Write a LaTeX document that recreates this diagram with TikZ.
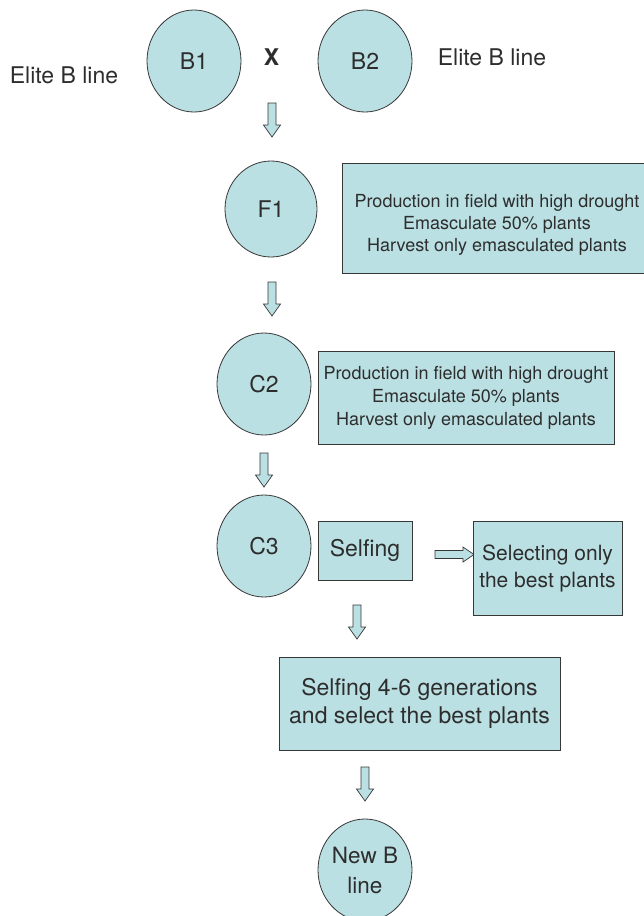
\documentclass[tikz,border=0pt]{standalone}
\usepackage{fontspec}
\setmainfont{TeX Gyre Heros}
\usetikzlibrary{shapes.geometric}
\definecolor{boxfill}{RGB}{187,224,227}
\definecolor{edge}{RGB}{55,55,55}
\definecolor{ink}{RGB}{45,45,45}
\newcommand{\myfs}[2]{\fontsize{#1}{#2}\selectfont}
\begin{document}
\begin{tikzpicture}[x=1pt,y=-1pt,
  ell/.style={ellipse, draw=edge, line width=0.8pt, fill=boxfill, inner sep=0pt,
    text=ink, align=center, font=\myfs{23}{28}},
  box/.style={rectangle, draw=edge, line width=0.9pt, fill=boxfill, inner sep=0pt,
    text=ink, align=center},
  txt/.style={text=ink, align=center, inner sep=0pt},
  blk/.style={draw=edge, line width=0.7pt, fill=boxfill, line join=miter},
  downarrow/.pic={\path[blk] (-4,0) -- (4,0) -- (4,22) -- (8.5,22) -- (0,34)
    -- (-8.5,22) -- (-4,22) -- cycle;},
  rightarrow/.pic={\path[blk] (0,-4) -- (28,-4) -- (28,-7.5) -- (39,0)
    -- (28,7.5) -- (28,4) -- (0,4) -- cycle;}]
\path[use as bounding box, fill=white] (0,0) rectangle (644,916);

% top row
\node[txt, font=\myfs{23}{28}] (eliteL) at (64,75) {Elite B line};
\node[ell, minimum width=94pt, minimum height=102pt] (b1) at (194,61) {B1};
\node[txt, font=\myfs{23}{28}\bfseries] (cross) at (271.5,57) {X};
\node[ell, minimum width=94pt, minimum height=102pt] (b2) at (365,61) {B2};
\node[txt, font=\myfs{23}{28}] (eliteR) at (492,57) {Elite B line};
\pic at (272,103) {downarrow};

% F1
\node[ell, minimum width=92pt, minimum height=96pt] (f1) at (271,209) {F1};
\node[box, minimum width=310pt, minimum height=110pt] (f1box) at (497,218) {};
\node[txt, font=\myfs{18}{22}] (f1txt) at (497,225)
  {Production in field with high drought\\Emasculate 50\% plants\\Harvest only emasculated plants};
\pic at (272,282) {downarrow};

% C2
\node[ell, minimum width=94pt, minimum height=102pt] (c2) at (264,384) {C2};
\node[box, minimum width=296pt, minimum height=93pt, font=\myfs{18}{23}] (c2box) at (466,397.5)
  {Production in field with high drought\\Emasculate 50\% plants\\Harvest only emasculated plants};
\pic at (264,453) {downarrow};

% C3 row
\node[ell, minimum width=94pt, minimum height=102pt] (c3) at (264,546) {C3};
\node[box, minimum width=94pt, minimum height=59pt, font=\myfs{23}{28}] (self) at (365,550.5) {Selfing};
\pic at (435,554.5) {rightarrow};
\node[box, minimum width=149pt, minimum height=94pt, font=\myfs{21}{27}] (sel) at (547.5,568)
  {Selecting only\\the best plants};
\pic at (357,605) {downarrow};

% generations
\node[box, minimum width=281pt, minimum height=93pt, font=\myfs{23}{28}] (gen) at (419.5,703.5)
  {Selfing 4-6 generations\\and select the best plants};
\pic at (365,767) {downarrow};

% new line
\node[ell, minimum width=94pt, minimum height=102pt, font=\myfs{22.5}{30}] (newb) at (365,870)
  {New B\\line};
\end{tikzpicture}
\end{document}
